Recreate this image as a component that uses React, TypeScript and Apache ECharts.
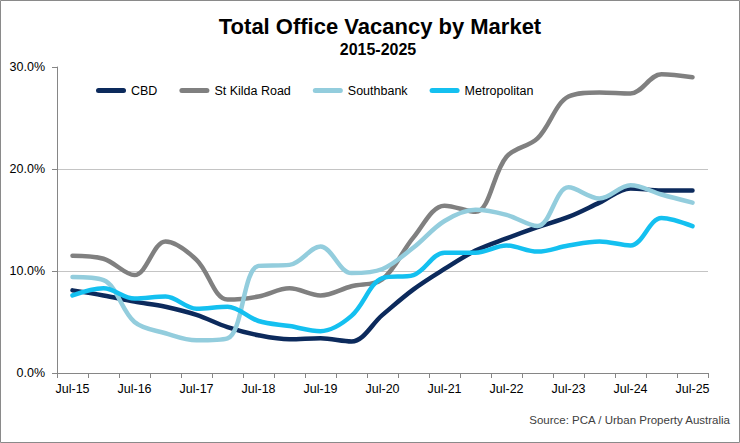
import React, { useEffect, useRef } from 'react';
import * as echarts from 'echarts';

const categories = [
  'Jul-15', 'Jan-16', 'Jul-16', 'Jan-17', 'Jul-17', 'Jan-18', 'Jul-18',
  'Jan-19', 'Jul-19', 'Jan-20', 'Jul-20', 'Jan-21', 'Jul-21', 'Jan-22',
  'Jul-22', 'Jan-23', 'Jul-23', 'Jan-24', 'Jul-24', 'Jan-25', 'Jul-25',
];

const seriesNames = ['CBD', 'St Kilda Road', 'Southbank', 'Metropolitan'];

const cbd = [8.1, 7.6, 7.0, 6.5, 5.7, 4.5, 3.7, 3.3, 3.4, 3.1, 5.7, 8.2, 10.2, 12.0, 13.2, 14.3, 15.3, 16.7, 18.1, 17.9, 17.9];
const stKildaRoad = [11.5, 11.2, 9.6, 12.9, 11.1, 7.2, 7.5, 8.3, 7.6, 8.5, 9.2, 13.3, 16.4, 15.8, 21.2, 23.0, 27.1, 27.5, 27.4, 29.3, 29.0];
const southbank = [9.4, 9.1, 5.0, 3.9, 3.2, 3.4, 10.5, 10.6, 12.4, 9.8, 10.2, 12.3, 14.9, 16.0, 15.5, 14.4, 18.2, 17.1, 18.4, 17.5, 16.7];
const metropolitan = [7.6, 8.3, 7.3, 7.5, 6.3, 6.5, 5.1, 4.6, 4.1, 5.6, 9.3, 9.6, 11.8, 11.8, 12.5, 11.9, 12.5, 12.9, 12.5, 15.2, 14.4];

const seriesData = [cbd, stKildaRoad, southbank, metropolitan];
const seriesColors = ['#0C2A5C', '#808080', '#93CDDD', '#14C0F0'];

const yMin = 0;
const yMax = 30;
const yInterval = 10;

const FONT = '"Liberation Sans", Arial, Helvetica, sans-serif';

export default function App() {
  const ref = useRef<HTMLDivElement>(null);

  useEffect(() => {
    if (!ref.current) return;
    const chart = echarts.init(ref.current, undefined, { renderer: 'svg' });
    chart.setOption({
      animation: false,
      backgroundColor: '#ffffff',
      title: [
        {
          text: 'Total Office Vacancy by Market',
          left: 380,
          top: 15,
          padding: 0,
          textAlign: 'center',
          textStyle: { fontFamily: FONT, fontSize: 22, fontWeight: 'bold', color: '#000' },
        },
        {
          text: '2015-2025',
          left: 378,
          top: 41,
          padding: 0,
          textAlign: 'center',
          textStyle: { fontFamily: FONT, fontSize: 16, fontWeight: 'bold', color: '#000' },
        },
      ],
      legend: {
        data: seriesNames,
        left: 96,
        top: 84,
        padding: 0,
        itemWidth: 30,
        itemHeight: 5,
        itemGap: 22,
        icon: 'path://M2.5,0 L27.5,0 A2.5,2.5 0 0 1 27.5,5 L2.5,5 A2.5,2.5 0 0 1 2.5,0 Z',
        textStyle: { fontFamily: FONT, fontSize: 12.5, color: '#000' },
      },
      grid: { left: 57, right: 32, top: 67, bottom: 70, containLabel: false },
      xAxis: {
        type: 'category',
        data: categories,
        boundaryGap: true,
        axisLine: { show: true, lineStyle: { color: '#868686', width: 1 } },
        axisTick: { show: true, interval: 0, length: 5, lineStyle: { color: '#868686' } },
        axisLabel: { interval: 1, margin: 9, fontFamily: FONT, fontSize: 12.5, color: '#000' },
        splitLine: { show: false },
      },
      yAxis: {
        type: 'value',
        min: yMin,
        max: yMax,
        interval: yInterval,
        axisLine: { show: true, lineStyle: { color: '#868686', width: 1 } },
        axisTick: { show: true, length: 5, lineStyle: { color: '#868686' } },
        axisLabel: {
          margin: 12,
          fontFamily: FONT,
          fontSize: 12.5,
          color: '#000',
          formatter: (v: number) => v.toFixed(1) + '%',
        },
        splitLine: {
          show: true,
          showMinLine: false,
          showMaxLine: false,
          lineStyle: { color: '#c4c4c4', width: 1 },
        },
      },
      series: seriesNames.map((name, i) => ({
        name,
        type: 'line',
        data: seriesData[i],
        smooth: 0.35,
        symbol: 'none',
        showSymbol: false,
        color: seriesColors[i],
        lineStyle: { color: seriesColors[i], width: 4.5, cap: 'round', join: 'round' },
      })),
      graphic: [
        {
          type: 'text',
          x: 730,
          y: 420,
          silent: true,
          style: {
            text: 'Source: PCA / Urban Property Australia',
            fontFamily: FONT,
            fontSize: 11.5,
            fill: '#404040',
            align: 'right',
            verticalAlign: 'middle',
          },
        },
        {
          type: 'rect',
          silent: true,
          z: 100,
          shape: { x: 0.5, y: 0.5, width: 739, height: 442 },
          style: { fill: 'none', stroke: '#8a8a8a', lineWidth: 1 },
        },
      ],
    });
    return () => chart.dispose();
  }, []);

  return (
    <div
      ref={ref}
      style={{ position: 'fixed', left: 0, top: 0, width: 740, height: 443, background: '#fff' }}
    />
  );
}
